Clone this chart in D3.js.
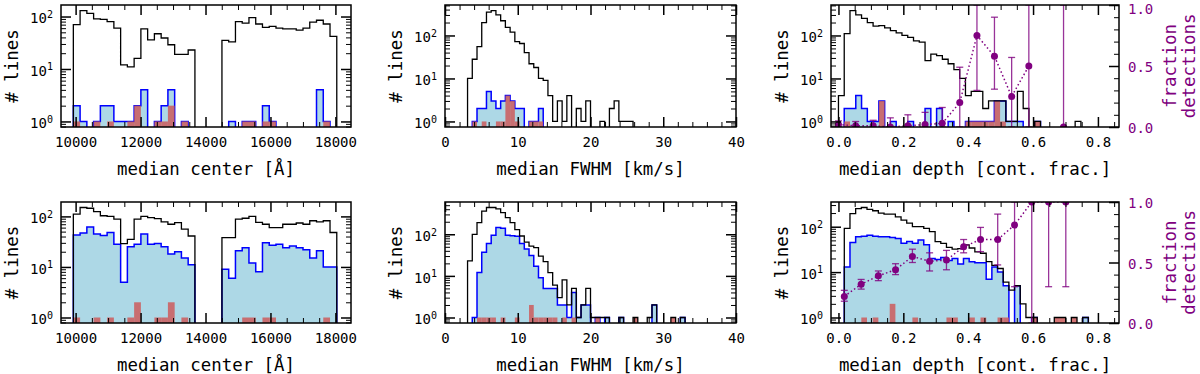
<!DOCTYPE html>
<html>
<head>
<meta charset="utf-8">
<script src="https://cdn.jsdelivr.net/npm/d3@7"></script>
<style>
  body { margin: 0; background: #fff; }
  svg text { font-family: 'DejaVu Sans Mono', monospace; }
</style>
</head>
<body>
<svg id="chart" width="1200" height="374"></svg>
<script>
// median line center [Å], 208 Å bins starting at 9930 Å
const centerBinStart = 9930
const centerBinWidth = 208
const centerAllTop = [70, 130, 115, 90, 88, 80, 60, 12, 11, 16, 58, 36, 47, 39, 29, 19, 19, 23, 0, 0, 0, 0, 35, 33, 80, 75, 95, 72, 62, 65, 60, 58, 58, 55, 60, 78, 85, 72, 42]
const centerSelTop = [2, 1, 0, 1, 2, 2, 1, 1, 1, 2, 4, 0, 1, 2, 4, 0, 1, 0, 0, 0, 0, 0, 0, 1, 0, 1, 1, 0, 2, 1, 0, 0, 0, 0, 0, 0, 4, 1, 0]
const centerDetTop = [1, 0, 0, 1, 0, 1, 0, 0, 1, 2, 0, 0, 1, 1, 2, 0, 1, 0, 0, 0, 0, 0, 0, 0, 0, 1, 1, 0, 1, 1, 0, 0, 0, 0, 0, 0, 0, 1, 0]
const centerAllBot = [111, 150, 145, 124, 103, 100, 88, 29, 35, 88, 100, 95, 90, 78, 70, 75, 56, 41, 0, 0, 0, 0, 38, 38, 88, 92, 100, 76, 70, 60, 60, 70, 70, 74, 70, 82, 78, 82, 48]
const centerSelBot = [43, 47, 62, 45, 42, 48, 28, 5, 25, 28, 45, 28, 29, 25, 18, 20, 15, 11, 0, 0, 0, 0, 9, 6, 21, 24, 12, 8, 30, 27, 28, 24, 26, 24, 22, 15, 21, 10, 10]
const centerDetBot = [1, 0, 0, 1, 0, 1, 0, 0, 1, 2, 0, 0, 1, 1, 2, 0, 1, 0, 0, 0, 0, 0, 0, 0, 0, 1, 1, 0, 1, 1, 0, 0, 0, 0, 0, 0, 0, 1, 0]

// median FWHM [km/s], 0.65 km/s bins starting at -0.15
const fwhmBinStart = -0.15
const fwhmBinWidth = 0.65
const fwhmAllTop = [0, 0, 0, 0, 0, 10, 28, 55, 200, 350, 380, 300, 220, 155, 120, 72, 65, 40, 22, 18, 10, 9, 4, 1, 3, 1, 4, 0, 2, 1, 3, 0, 0, 1, 0, 2, 3, 1, 1, 1]
const fwhmSelTop = [0, 0, 0, 0, 0, 0, 1, 2, 2, 5, 3, 2, 3, 4, 3, 2, 2, 0, 1, 1, 2]
const fwhmDetTop = [0, 0, 0, 0, 0, 0, 1, 0, 1, 0, 0, 1, 1, 4, 3, 1, 0, 0, 1, 1, 1]
const fwhmAllBot = [0, 0, 0, 0, 0, 23, 100, 190, 360, 440, 440, 410, 330, 250, 190, 130, 91, 65, 52, 48, 30, 22, 12, 6, 3, 8, 2, 5, 1, 2, 5, 1, 1, 1, 1, 0, 0, 1, 0, 0, 1, 0, 0, 1, 2, 0, 0, 0, 1, 0, 1]
const fwhmSelBot = [0, 0, 0, 0, 0, 0, 1, 12, 37, 60, 95, 145, 140, 95, 92, 90, 60, 44, 31, 17, 9, 5, 5, 5, 2, 2, 1, 4, 1, 2, 2, 0, 1, 0, 1, 0, 0, 1, 0, 0, 0, 0, 0, 0, 2, 0, 0, 0, 0, 0, 1]
const fwhmDetBot = [0, 0, 0, 0, 0, 0, 0, 1, 1, 1, 1, 0, 1, 0, 0, 1, 0, 0, 2, 1, 1, 1, 1, 1, 0, 1, 0, 1, 0, 0, 0, 0, 1, 0, 0, 0, 0, 0, 0, 0, 1, 0, 0, 0, 0, 0, 0, 0, 1]

// median depth [cont. frac.]
const depthBinStartTop = 0.0
const depthBinWidthTop = 0.0178
const depthAllTop = [4, 110, 380, 300, 250, 200, 165, 170, 150, 130, 115, 100, 90, 75, 70, 26, 37, 34, 28, 22, 16, 10, 4, 5, 5, 2, 3, 3, 3, 1, 1, 5, 2, 0, 1, 0, 0, 0, 0, 0, 0, 1]
const depthSelTop = [0, 2, 2, 4, 2, 1, 1, 3, 0, 1, 0, 0, 1, 0, 0, 2, 0, 2, 0, 1, 0, 0, 1, 1, 1, 1, 1, 3, 3, 1, 1, 1, 0, 0, 1]
const depthDetTop = [0, 1, 0, 0, 0, 0, 0, 3, 0, 0, 0, 0, 0, 0, 0, 0, 0, 0, 0, 0, 0, 0, 1, 1, 1, 1, 1, 3, 1, 0, 0, 0, 0, 0, 1]
const depthBinStartBot = 0.018
const depthBinWidthBot = 0.0175
const depthAllBot = [92, 195, 250, 265, 240, 225, 200, 190, 190, 165, 140, 120, 100, 100, 92, 78, 47, 43, 35, 32, 33, 40, 34, 28, 26, 17, 14, 12, 6, 4, 5, 2, 1, 1, 0, 0, 0, 1, 1, 0, 1, 0, 1]
const depthSelBot = [13, 45, 60, 62, 65, 62, 60, 60, 58, 55, 43, 47, 43, 51, 40, 20, 19, 21, 18, 20, 15, 20, 17, 16, 16, 7, 13, 10, 5, 0, 5, 0, 0, 1, 0, 0, 0, 0, 0, 0, 0, 0, 1]
const depthDetBot = [0, 0, 0, 1, 0, 1, 0, 0, 2, 0, 0, 0, 1, 0, 0, 0, 0, 0, 1, 1, 0, 0, 1, 0, 1, 0, 0, 1, 1, 0, 0, 0, 0, 1, 0, 0, 0, 1, 1, 0, 1]

// fraction of detections (right axis)
const fracTopX = [0.0, 0.053, 0.107, 0.16, 0.214, 0.267, 0.32, 0.374, 0.427, 0.481, 0.534, 0.587, 0.641, 0.694]
const fracTopY = [0.02, 0.01, 0.01, 0.0, 0.01, 0.02, 0.03, 0.2, 0.75, 0.58, 0.25, 0.5, null, 0.0]
const fracTopLo = [0, 0, 0, 0, 0, 0, 0, 0, 0.3, 0.31, 0, 0, null, 0]
const fracTopHi = [0.05, 0.045, 0.055, 0.075, 0.1, 0.12, 0.16, 0.49, 1.0, 0.9, 0.57, 1.0, null, 1.0]
const fracBotX = [0.018, 0.07, 0.123, 0.176, 0.228, 0.281, 0.333, 0.386, 0.438, 0.491, 0.543, 0.596, 0.648, 0.701]
const fracBotY = [0.22, 0.32, 0.39, 0.44, 0.55, 0.51, 0.52, 0.63, 0.69, 0.69, 0.81, 1.0, 1.0, 1.0]
const fracBotLo = [0.18, 0.28, 0.35, 0.4, 0.5, 0.43, 0.44, 0.58, 0.59, 0.48, 0.3, 0.0, 0.3, 0.3]
const fracBotHi = [0.27, 0.36, 0.43, 0.49, 0.61, 0.58, 0.6, 0.69, 0.79, 0.9, 1.0, 1.0, 1.0, 1.0]

// ticks
const centerTicks = [10000, 12000, 14000, 16000, 18000]
const centerTickLabels = ['10000', '12000', '14000', '16000', '18000']
const fwhmTicks = [0, 10, 20, 30, 40]
const fwhmTickLabels = ['0', '10', '20', '30', '40']
const depthTicks = [0, 0.2, 0.4, 0.6, 0.8]
const depthTickLabels = ['0.0', '0.2', '0.4', '0.6', '0.8']
const fracTicks = [0, 0.5, 1]
const fracTickLabels = ['0.0', '0.5', '1.0']

const purple = '#800080'
const tickFont = 14
const labelFont = 17.4

const colX = [61, 445, 831]
const colW = [290, 291, 288]
const rowY = [5, 202]
const rowH = [122, 121]

const svg = d3.select('#chart')

const edgesOf = (start, width, n) => d3.range(n + 1).map((i) => start + i * width)

const minorTicks = (domain, step, majors) =>
  d3
    .range(Math.ceil(domain[0] / step), Math.floor(domain[1] / step) + 1)
    .map((k) => +(k * step).toFixed(6))
    .filter((v) => !majors.some((m) => Math.abs(m - v) < step / 100))

function styleAxis(g, width) {
  g.select('.domain').remove()
  g.selectAll('.tick line').attr('stroke', '#000').attr('stroke-width', width)
  g.attr('font-family', null).attr('font-size', tickFont)
}

const centerCfg = { xDomain: [9550, 18480], ticks: centerTicks, tickLabels: centerTickLabels, minorStep: 500, binStart: centerBinStart, binWidth: centerBinWidth, xlabel: 'median center [Å]' }
const fwhmCfg = { xDomain: [0, 40], ticks: fwhmTicks, tickLabels: fwhmTickLabels, minorStep: 2, binStart: fwhmBinStart, binWidth: fwhmBinWidth, xlabel: 'median FWHM [km/s]' }
const depthCfg = { xDomain: [-0.023, 0.865], ticks: depthTicks, tickLabels: depthTickLabels, minorStep: 0.05, xlabel: 'median depth [cont. frac.]' }

const panels = [
  { ...centerCfg, col: 0, row: 0, all: centerAllTop, sel: centerSelTop, det: centerDetTop },
  { ...fwhmCfg, col: 1, row: 0, all: fwhmAllTop, sel: fwhmSelTop, det: fwhmDetTop },
  { ...depthCfg, col: 2, row: 0, binStart: depthBinStartTop, binWidth: depthBinWidthTop, all: depthAllTop, sel: depthSelTop, det: depthDetTop,
    frac: { x: fracTopX, y: fracTopY, lo: fracTopLo, hi: fracTopHi } },
  { ...centerCfg, col: 0, row: 1, all: centerAllBot, sel: centerSelBot, det: centerDetBot },
  { ...fwhmCfg, col: 1, row: 1, all: fwhmAllBot, sel: fwhmSelBot, det: fwhmDetBot },
  { ...depthCfg, col: 2, row: 1, binStart: depthBinStartBot, binWidth: depthBinWidthBot, all: depthAllBot, sel: depthSelBot, det: depthDetBot,
    frac: { x: fracBotX, y: fracBotY, lo: fracBotLo, hi: fracBotHi } },
]

function drawPanel(p, idx) {
  const w = colW[p.col]
  const h = rowH[p.row]
  const root = svg.append('g').attr('transform', `translate(${colX[p.col]} ${rowY[p.row]})`)

  const x = d3.scaleLinear().domain(p.xDomain).range([0, w])
  // matplotlib-like 5% log margins around [1, max]
  const L = Math.log10(d3.max(p.all))
  const y = d3.scaleLog().domain([10 ** (-0.05 * L), 10 ** (1.05 * L)]).range([h, 0])
  const yv = (c) => (c > 0 ? y(c) : h + 5)

  root.append('clipPath').attr('id', `clip${idx}`).append('rect').attr('width', w).attr('height', h)
  const plot = root.append('g').attr('clip-path', `url(#clip${idx})`)

  const line = d3.line()
  const outline = (counts) => {
    const e = edgesOf(p.binStart, p.binWidth, counts.length)
    const pts = [[x(e[0]), h + 5]]
    counts.forEach((c, i) => pts.push([x(e[i]), yv(c)], [x(e[i + 1]), yv(c)]))
    pts.push([x(e[counts.length]), h + 5])
    return pts
  }

  plot
    .append('path')
    .attr('d', line(outline(p.sel)) + 'Z')
    .attr('fill', 'lightblue')
    .attr('stroke', 'blue')
    .attr('stroke-width', 1.5)

  const detEdges = edgesOf(p.binStart, p.binWidth, p.det.length)
  plot
    .selectAll('rect.det')
    .data(p.det.map((c, i) => ({ c, x0: detEdges[i], x1: detEdges[i + 1] })).filter((d) => d.c > 0))
    .join('rect')
    .attr('class', 'det')
    .attr('x', (d) => x(d.x0))
    .attr('width', (d) => x(d.x1) - x(d.x0))
    .attr('y', (d) => y(d.c))
    .attr('height', (d) => h - y(d.c))
    .attr('fill', 'indianred')
    .attr('fill-opacity', 0.85)

  plot
    .append('path')
    .attr('d', line(outline(p.all)))
    .attr('fill', 'none')
    .attr('stroke', '#000')
    .attr('stroke-width', 1.3)

  // fraction of detections on a twin axis
  let yf = null
  if (p.frac) {
    yf = d3.scaleLinear().domain([0, 1]).range([h, 0])
    const pts = p.frac.x.map((xv, i) => ({ x: xv, y: p.frac.y[i], lo: p.frac.lo[i], hi: p.frac.hi[i] }))
    const shown = pts.filter((d) => d.y != null)
    const fg = plot.append('g')
    fg.append('path')
      .datum(pts)
      .attr('d', d3.line().defined((d) => d.y != null).x((d) => x(d.x)).y((d) => yf(d.y)))
      .attr('fill', 'none')
      .attr('stroke', purple)
      .attr('stroke-width', 1.5)
      .attr('stroke-dasharray', '1.5,2.5')
    fg.selectAll('line.err')
      .data(shown)
      .join('line')
      .attr('class', 'err')
      .attr('x1', (d) => x(d.x))
      .attr('x2', (d) => x(d.x))
      .attr('y1', (d) => yf(d.lo))
      .attr('y2', (d) => yf(d.hi))
      .attr('stroke', purple)
      .attr('stroke-opacity', 0.8)
      .attr('stroke-width', 1.3)
    for (const key of ['lo', 'hi']) {
      fg.selectAll(`line.cap-${key}`)
        .data(shown)
        .join('line')
        .attr('class', `cap-${key}`)
        .attr('x1', (d) => x(d.x) - 3.5)
        .attr('x2', (d) => x(d.x) + 3.5)
        .attr('y1', (d) => yf(d[key]))
        .attr('y2', (d) => yf(d[key]))
        .attr('stroke', purple)
        .attr('stroke-opacity', 0.8)
        .attr('stroke-width', 1.3)
    }
    fg.selectAll('circle')
      .data(shown)
      .join('circle')
      .attr('cx', (d) => x(d.x))
      .attr('cy', (d) => yf(d.y))
      .attr('r', 3.5)
      .attr('fill', purple)
  }

  // x axes, inward ticks on bottom and top
  const xMinor = minorTicks(p.xDomain, p.minorStep, p.ticks)
  root
    .append('g')
    .attr('transform', `translate(0,${h})`)
    .call(d3.axisBottom(x).tickValues(p.ticks).tickFormat((d, i) => p.tickLabels[i]).tickSize(-10).tickPadding(10))
    .call(styleAxis, 1.5)
  root
    .append('g')
    .attr('transform', `translate(0,${h})`)
    .call(d3.axisBottom(x).tickValues(xMinor).tickFormat('').tickSize(-5))
    .call(styleAxis, 1)
  root.append('g').call(d3.axisTop(x).tickValues(p.ticks).tickFormat('').tickSize(-10)).call(styleAxis, 1.5)
  root.append('g').call(d3.axisTop(x).tickValues(xMinor).tickFormat('').tickSize(-5)).call(styleAxis, 1)

  // log y axis
  const [lo, hi] = y.domain()
  const decades = d3.range(Math.ceil(Math.log10(lo)), Math.floor(Math.log10(hi)) + 1).map((k) => 10 ** k)
  const yMinor = []
  for (let k = Math.floor(Math.log10(lo)); k <= Math.floor(Math.log10(hi)); k++) {
    for (let m = 2; m <= 9; m++) {
      const v = m * 10 ** k
      if (v >= lo && v <= hi) yMinor.push(v)
    }
  }
  const left = root
    .append('g')
    .call(d3.axisLeft(y).tickValues(decades).tickSize(-10).tickPadding(8))
    .call(styleAxis, 1.5)
  left
    .selectAll('.tick text')
    .text(null)
    .attr('dy', '0.45em')
    .each(function (d) {
      const t = d3.select(this)
      t.append('tspan').text('10')
      t.append('tspan').attr('dy', '-0.55em').attr('font-size', 10).text(Math.round(Math.log10(d)))
    })
  root.append('g').call(d3.axisLeft(y).tickValues(yMinor).tickFormat('').tickSize(-5)).call(styleAxis, 1)

  if (!yf) {
    const right = root.append('g').attr('transform', `translate(${w},0)`)
    right.append('g').call(d3.axisRight(y).tickValues(decades).tickFormat('').tickSize(-10)).call(styleAxis, 1.5)
    right.append('g').call(d3.axisRight(y).tickValues(yMinor).tickFormat('').tickSize(-5)).call(styleAxis, 1)
  } else {
    const right = root.append('g').attr('transform', `translate(${w},0)`)
    right
      .append('g')
      .call(d3.axisRight(yf).tickValues(fracTicks).tickFormat((d, i) => fracTickLabels[i]).tickSize(-10).tickPadding(9))
      .call(styleAxis, 1.5)
      .selectAll('.tick text')
      .attr('fill', purple)
      .attr('dy', '0.42em')
      // keep the top label inside the picture
      .attr('y', (d) => (d === 1 && p.row === 0 ? 2.5 : 0))
    right
      .append('g')
      .call(d3.axisRight(yf).tickValues(minorTicks([0, 1], 0.1, fracTicks)).tickFormat('').tickSize(-5))
      .call(styleAxis, 1)

    const rl = root
      .append('text')
      .attr('transform', `translate(${w + 57} ${h / 2}) rotate(-90)`)
      .attr('text-anchor', 'middle')
      .attr('font-size', labelFont)
      .attr('fill', purple)
    rl.append('tspan').attr('x', 0).text('fraction')
    rl.append('tspan').attr('x', 0).attr('dy', 19).text('detections')
  }

  root
    .append('rect')
    .attr('width', w)
    .attr('height', h)
    .attr('fill', 'none')
    .attr('stroke', '#000')
    .attr('stroke-width', 1.5)

  root
    .append('text')
    .attr('transform', `translate(-43 ${h / 2}) rotate(-90)`)
    .attr('text-anchor', 'middle')
    .attr('font-size', labelFont)
    .text('# lines')

  root
    .append('text')
    .attr('x', w / 2)
    .attr('y', h + 48)
    .attr('text-anchor', 'middle')
    .attr('font-size', labelFont)
    .text(p.xlabel)
}

panels.forEach(drawPanel)
</script>
</body>
</html>
